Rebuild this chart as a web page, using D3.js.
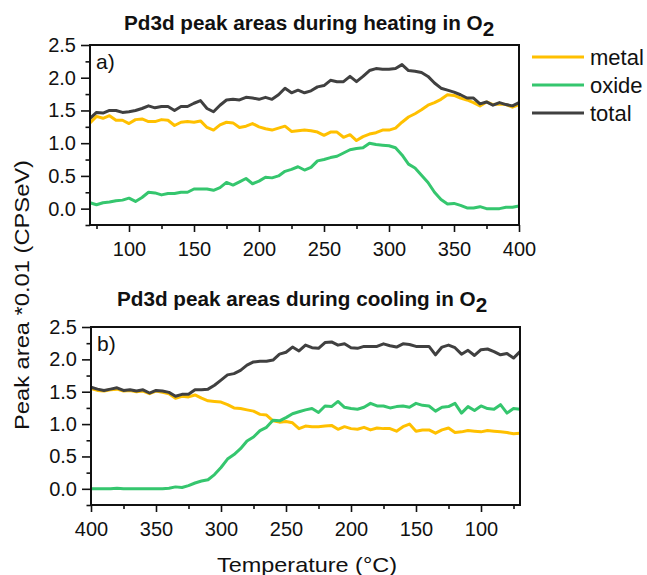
<!DOCTYPE html>
<html>
<head>
<meta charset="utf-8">
<script src="https://cdn.jsdelivr.net/npm/d3@7"></script>
<style>
  body { margin: 0; background: #fff; }
  svg text { font-family: "Liberation Sans", Arial, sans-serif; fill: #111; }
</style>
</head>
<body>
<svg id="chart" width="647" height="575"></svg>
<script>
// Pd3d peak areas (x0.01 CPSeV) recorded while heating in O2
const heatTemp = [70,75,80,85,90,95,100,105,110,115,120,125,130,135,140,145,150,155,160,165,
  170,175,180,185,190,195,200,205,210,215,220,225,230,235,240,245,250,255,260,265,
  270,275,280,285,290,295,300,305,310,315,320,325,330,335,340,345,350,355,360,365,
  370,375,380,385,390,395,400];
const heatMetal = [1.31,1.41,1.38,1.42,1.35,1.35,1.30,1.36,1.37,1.33,
  1.33,1.36,1.35,1.27,1.32,1.33,1.32,1.34,1.24,1.20,
  1.28,1.32,1.31,1.24,1.26,1.30,1.25,1.22,1.20,1.23,
  1.26,1.18,1.19,1.20,1.19,1.17,1.12,1.17,1.17,1.09,
  1.13,1.04,1.10,1.14,1.16,1.20,1.20,1.23,1.32,1.40,
  1.45,1.51,1.58,1.62,1.67,1.74,1.73,1.69,1.66,1.62,
  1.57,1.63,1.59,1.60,1.59,1.55,1.59];
const heatOxide = [0.09,0.06,0.09,0.10,0.12,0.13,0.16,0.11,0.17,0.25,
  0.24,0.21,0.23,0.23,0.25,0.25,0.30,0.30,0.30,0.28,
  0.32,0.40,0.36,0.41,0.46,0.38,0.42,0.48,0.47,0.50,
  0.57,0.60,0.64,0.59,0.63,0.73,0.75,0.78,0.80,0.85,
  0.90,0.92,0.93,1.00,0.98,0.97,0.96,0.93,0.82,0.68,
  0.62,0.51,0.40,0.25,0.14,0.07,0.08,0.05,0.01,0.01,
  0.03,0.00,0.00,0.00,0.02,0.02,0.04];
const heatTotal = [1.38,1.47,1.46,1.50,1.50,1.47,1.48,1.50,1.53,1.57,
  1.54,1.56,1.56,1.50,1.56,1.56,1.61,1.65,1.53,1.48,
  1.58,1.66,1.67,1.66,1.70,1.69,1.67,1.70,1.67,1.74,
  1.84,1.77,1.81,1.77,1.80,1.86,1.88,1.96,1.94,1.94,
  2.02,1.94,2.02,2.11,2.14,2.13,2.13,2.14,2.20,2.11,
  2.10,2.08,2.02,1.92,1.84,1.81,1.78,1.74,1.69,1.69,
  1.60,1.63,1.58,1.62,1.59,1.57,1.62];

// Same quantities recorded while cooling in O2
const coolTemp = [400,395,390,385,380,375,370,365,360,355,350,345,340,335,330,325,320,315,310,305,
  300,295,290,285,280,275,270,265,260,255,250,245,240,235,230,225,220,215,210,205,
  200,195,190,185,180,175,170,165,160,155,150,145,140,135,130,125,120,115,110,105,
  100,95,90,85,80,75,70];
const coolMetal = [1.55,1.52,1.51,1.53,1.54,1.51,1.52,1.50,1.51,1.47,
  1.51,1.49,1.47,1.40,1.43,1.42,1.45,1.40,1.36,1.35,
  1.34,1.30,1.25,1.24,1.22,1.20,1.15,1.14,1.05,1.03,
  1.04,1.02,0.93,0.97,0.96,0.96,0.97,0.98,0.92,0.96,
  0.93,0.92,0.95,0.91,0.94,0.93,0.93,0.89,0.96,1.00,
  0.89,0.91,0.91,0.86,0.91,0.94,0.87,0.88,0.90,0.89,
  0.88,0.90,0.89,0.88,0.87,0.85,0.86];
const coolOxide = [0.00,0.00,0.00,0.00,0.01,0.00,0.00,0.00,0.00,0.00,
  0.00,0.00,0.01,0.03,0.02,0.05,0.09,0.12,0.14,0.22,
  0.33,0.46,0.53,0.62,0.74,0.80,0.90,0.95,1.06,1.05,
  1.10,1.16,1.19,1.22,1.24,1.18,1.28,1.27,1.35,1.26,
  1.24,1.23,1.26,1.32,1.28,1.28,1.25,1.27,1.28,1.26,
  1.32,1.29,1.28,1.20,1.26,1.27,1.32,1.17,1.27,1.21,
  1.28,1.24,1.23,1.30,1.17,1.24,1.23];
const coolTotal = [1.57,1.54,1.52,1.54,1.56,1.52,1.53,1.51,1.53,1.48,
  1.52,1.51,1.49,1.43,1.46,1.46,1.53,1.53,1.54,1.60,
  1.68,1.76,1.78,1.83,1.91,1.96,1.97,1.97,1.99,2.08,
  2.11,2.19,2.13,2.22,2.18,2.17,2.26,2.27,2.22,2.24,
  2.18,2.17,2.20,2.20,2.20,2.24,2.21,2.19,2.24,2.23,
  2.20,2.20,2.20,2.07,2.19,2.22,2.18,2.08,2.14,2.06,
  2.15,2.16,2.12,2.07,2.09,2.02,2.12];

// Axis ticks
const yMajor = [0, 0.5, 1.0, 1.5, 2.0, 2.5];
const yMinor = [-0.25, 0.25, 0.75, 1.25, 1.75, 2.25];
const xMajor = [100, 150, 200, 250, 300, 350, 400];
const xMinor = [75, 125, 175, 225, 275, 325, 375];

const seriesNames = ["metal", "oxide", "total"];
const colors = { metal: "#FFC000", oxide: "#35C66E", total: "#404040" };

const svg = d3.select("#chart");

function drawPanel(p) {
  const x = d3.scaleLinear().domain(p.xDomain).range([p.left, p.right]);
  const y = d3.scaleLinear().domain([-0.25, 2.5]).range([p.bottom, p.top]);
  const g = svg.append("g");

  const line = d3.line()
    .x((d, i) => x(p.temps[i]))
    .y(d => y(d))
    .curve(d3.curveLinear);

  seriesNames.forEach(name => {
    g.append("path")
      .datum(p.values[name])
      .attr("fill", "none")
      .attr("stroke", colors[name])
      .attr("stroke-width", 3)
      .attr("stroke-linejoin", "round")
      .attr("d", line);
  });

  // frame
  g.append("rect")
    .attr("x", p.left).attr("y", p.top)
    .attr("width", p.right - p.left).attr("height", p.bottom - p.top)
    .attr("fill", "none").attr("stroke", "#111").attr("stroke-width", 2);

  const styleAxis = sel => {
    sel.select(".domain").remove();
    sel.selectAll(".tick line").attr("stroke", "#111").attr("stroke-width", 1.6);
    sel.selectAll(".tick text").style("font-size", "20px").attr("fill", "#111");
  };

  g.append("g").attr("transform", `translate(0,${p.bottom})`)
    .call(d3.axisBottom(x).tickValues(xMajor).tickSize(7).tickPadding(10).tickFormat(d3.format("d")))
    .call(styleAxis);
  g.append("g").attr("transform", `translate(0,${p.bottom})`)
    .call(d3.axisBottom(x).tickValues(xMinor).tickSize(4).tickFormat(""))
    .call(styleAxis);
  g.append("g").attr("transform", `translate(${p.left},0)`)
    .call(d3.axisLeft(y).tickValues(yMajor).tickSize(9).tickPadding(5).tickFormat(d3.format(".1f")))
    .call(styleAxis);
  g.append("g").attr("transform", `translate(${p.left},0)`)
    .call(d3.axisLeft(y).tickValues(yMinor).tickSize(4.5).tickFormat(""))
    .call(styleAxis);

  // panel title with subscript
  const t = g.append("text")
    .attr("x", p.titleX).attr("y", p.titleY)
    .style("font-size", "20.7px").style("font-weight", "bold");
  t.append("tspan").text(p.title);
  t.append("tspan").attr("dy", 6).text("2");

  g.append("text")
    .attr("x", p.left + 6).attr("y", p.top + 24)
    .style("font-size", "21px")
    .text(p.tag);
}

drawPanel({
  left: 90, right: 519, top: 45, bottom: 225,
  xDomain: [70, 400], temps: heatTemp,
  values: { metal: heatMetal, oxide: heatOxide, total: heatTotal },
  title: "Pd3d peak areas during heating in O", titleX: 124, titleY: 30,
  tag: "a)"
});

drawPanel({
  left: 91, right: 520, top: 327, bottom: 505,
  xDomain: [400, 70], temps: coolTemp,
  values: { metal: coolMetal, oxide: coolOxide, total: coolTotal },
  title: "Pd3d peak areas during cooling in O", titleX: 117, titleY: 306,
  tag: "b)"
});

// legend
const legend = svg.append("g");
seriesNames.forEach((name, i) => {
  const ly = 57 + i * 28;
  legend.append("line")
    .attr("x1", 532).attr("x2", 584).attr("y1", ly).attr("y2", ly)
    .attr("stroke", colors[name]).attr("stroke-width", 3);
  legend.append("text")
    .attr("x", 590).attr("y", ly + 8)
    .style("font-size", "22px")
    .text(name);
});

// shared axis titles
svg.append("text")
  .attr("transform", "translate(29,295) rotate(-90)")
  .attr("text-anchor", "middle")
  .attr("textLength", 270)
  .attr("lengthAdjust", "spacingAndGlyphs")
  .style("font-size", "21px")
  .text("Peak area *0.01 (CPSeV)");

svg.append("text")
  .attr("x", 307).attr("y", 572)
  .attr("text-anchor", "middle")
  .attr("textLength", 180)
  .attr("lengthAdjust", "spacingAndGlyphs")
  .style("font-size", "21px")
  .text("Temperature (°C)");
</script>
</body>
</html>
